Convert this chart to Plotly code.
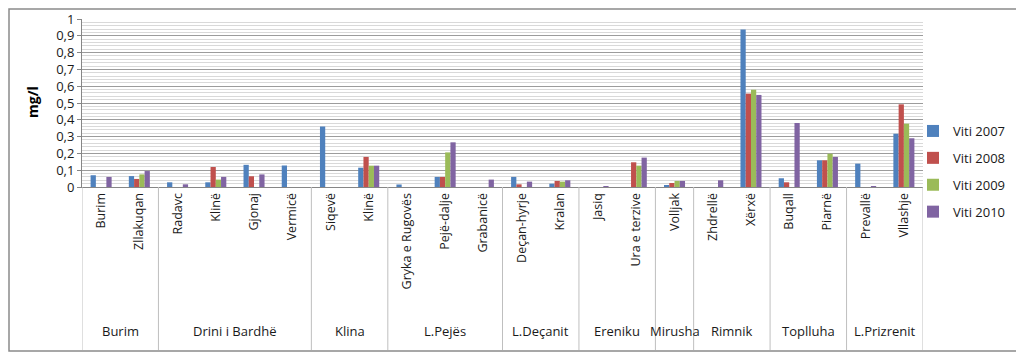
import plotly.graph_objects as go

# ---------------- data ----------------
groups = ["Burim", "Drini i Bardhë", "Klina", "L.Pejës", "L.Deçanit",
          "Ereniku", "Mirusha", "Rimnik", "Toplluha", "L.Prizrenit"]
group_sizes = [2, 4, 2, 3, 2, 2, 1, 2, 2, 2]
stations = ["Burim", "Zllakuqan", "Radavc", "Klinë", "Gjonaj", "Vermicë",
            "Siqevë", "Klinë", "Gryka e Rugovës", "Pejë-dalje", "Grabanicë",
            "Deçan-hyrje", "Kralan", "Jasiq", "Ura e terzive", "Volljak",
            "Zhdrellë", "Xërxë", "Buqall", "Piarnë", "Prevallë", "Vllashje"]
series_names = ["Viti 2007", "Viti 2008", "Viti 2009", "Viti 2010"]
v2007 = [0.07, 0.065, 0.028, 0.028, 0.132, 0.128, 0.36, 0.115, 0.015, 0.06, None,
         0.06, 0.02, None, None, 0.008, None, 0.937, 0.052, 0.159, 0.139, 0.317]
v2008 = [None, 0.048, None, 0.119, 0.064, None, None, 0.179, None, 0.06, None,
         0.016, 0.036, None, 0.147, 0.024, None, 0.556, 0.028, 0.159, None, 0.492]
v2009 = [None, 0.075, None, 0.044, None, None, None, 0.127, None, 0.206, None,
         None, 0.032, None, 0.127, 0.036, None, 0.579, None, 0.198, None, 0.377]
v2010 = [0.06, 0.095, 0.016, 0.06, 0.075, None, None, 0.127, None, 0.266, 0.044,
         0.032, 0.04, 0.004, 0.175, 0.036, 0.04, 0.548, 0.381, 0.179, 0.004, 0.29]
y_ticks = [0, 0.1, 0.2, 0.3, 0.4, 0.5, 0.6, 0.7, 0.8, 0.9, 1]
y_ticktext = ["0", "0,1", "0,2", "0,3", "0,4", "0,5", "0,6", "0,7", "0,8", "0,9", "1"]
colors = ["#4F81BD", "#C0504D", "#9BBB59", "#8064A2"]

# ---------------- layout geometry (page pixels) ----------------
PAGE_W, PAGE_H = 1024, 356
OFF = 8                      # default body margin of the html page
W, H = PAGE_W - OFF, PAGE_H - OFF
L, R, T, B = 82 - OFF, 923 - OFF, 19 - OFF, 187 - OFF
pw, ph = R - L, B - T
def px_x(p):  # page pixel -> paper x
    return (p - OFF - L) / pw
def px_y(p):  # page pixel -> paper y
    return (B - (p - OFF)) / ph

FONT = "Open Sans"
TXT = "#1a1a1a"
xs = list(range(len(stations)))

fig = go.Figure()
for name, vals, c in zip(series_names, [v2007, v2008, v2009, v2010], colors):
    fig.add_trace(go.Bar(x=xs, y=vals, name=name, marker_color=c,
                         marker_line_width=0, legendgroup=name))

shapes = []
annotations = []
# group boundaries and group labels
start = 0
bounds = [-0.5]
for g, n in zip(groups, group_sizes):
    center = start + (n - 1) / 2
    annotations.append(dict(x=center, xref="x", y=px_y(331), yref="paper",
                            text=g, showarrow=False, xanchor="center", yanchor="middle",
                            font=dict(family=FONT, size=13, color=TXT)))
    start += n
    bounds.append(start - 0.5)
for b in bounds:
    shapes.append(dict(type="line", xref="x", yref="paper", x0=b, x1=b,
                       y0=0, y1=px_y(350), line=dict(color="#BFBFBF", width=1)))
# outer chart border
shapes.append(dict(type="rect", xref="paper", yref="paper",
                   x0=px_x(OFF + 1), x1=px_x(1019), y0=px_y(OFF + 1), y1=px_y(351),
                   line=dict(color="#8A8A8A", width=1.5), layer="below"))
# y-axis title placed explicitly
annotations.append(dict(x=px_x(32), y=px_y(102), xref="paper", yref="paper",
                        text="<b>mg/l</b>", textangle=-90, showarrow=False,
                        xanchor="center", yanchor="middle",
                        font=dict(family=FONT, size=14, color="#000")))

fig.update_layout(
    width=W, height=H,
    margin=dict(l=L, r=W - R, t=T, b=H - B, pad=0, autoexpand=False),
    paper_bgcolor="white", plot_bgcolor="white",
    barmode="group", bargap=0.45, bargroupgap=0,
    font=dict(family=FONT, size=12, color=TXT),
    showlegend=True,
    legend=dict(x=px_x(913), y=px_y(116), xanchor="left", yanchor="top",
                font=dict(family=FONT, size=13, color=TXT),
                tracegroupgap=7, bgcolor="rgba(0,0,0,0)"),
    shapes=shapes, annotations=annotations,
)
fig.update_xaxes(range=[-0.5, len(stations) - 0.5], tickmode="array",
                 tickvals=xs, ticktext=stations, tickangle=-90,
                 tickfont=dict(family=FONT, size=12.5, color=TXT),
                 showgrid=False, zeroline=False, showline=True, automargin=False,
                 linecolor="#868686", linewidth=1, ticks="", fixedrange=True)
fig.update_yaxes(range=[0, 1], tickmode="array", tickvals=y_ticks, ticktext=y_ticktext,
                 tickfont=dict(family=FONT, size=13, color=TXT), automargin=False,
                 showgrid=True, gridcolor="#9C9C9C", gridwidth=1,
                 minor=dict(dtick=0.02, showgrid=True, gridcolor="#D9D9D9", gridwidth=1),
                 zeroline=False, showline=True, linecolor="#868686", linewidth=1,
                 ticks="outside", ticklen=4, tickcolor="#868686")
fig.write_html("out.html")
